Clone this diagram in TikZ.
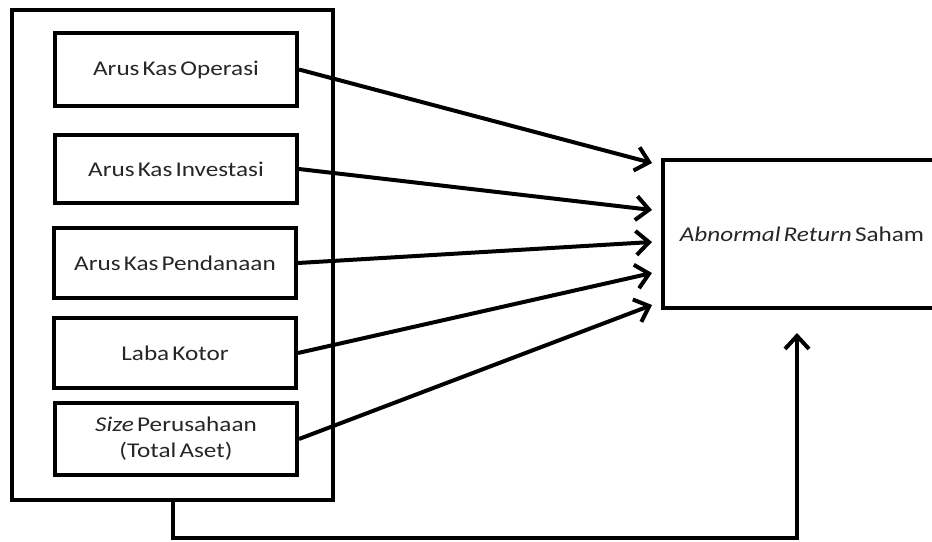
\documentclass[tikz,border=0pt]{standalone}
\usepackage{fontspec}
\setmainfont[FakeStretch=1.2,WordSpace=0.55]{Carlito}
\usetikzlibrary{arrows.meta}
\begin{document}
\begin{tikzpicture}[x=1pt,y=-1pt,
  line width=4pt,
  every node/.style={font=\fontsize{21}{26}\selectfont, text=black!85},
  inbox/.style={draw=black, line width=4pt, minimum width=242pt, inner sep=0pt, align=center},
  conn/.style={line width=4pt, -{Straight Barb[length=13pt,width=24pt,line width=4pt]}}]
\useasboundingbox (0,0) rectangle (932,541);
\clip (0,0) rectangle (932,541);
% outer group box
\node[draw=black, line width=4pt, minimum width=321pt, minimum height=490pt, inner sep=0pt] (outer) at (172.5,255) {};
% inner boxes
\node[inbox, minimum height=73pt] (op) at (176,69.5) {Arus Kas Operasi};
\node[inbox, minimum height=68pt] (inv) at (176,169) {Arus Kas Investasi};
\node[inbox, minimum height=70pt] (pen) at (175,263) {Arus Kas Pendanaan};
\node[inbox, minimum height=70pt] (lab) at (175,353) {Laba Kotor};
\node[inbox, minimum height=72pt] (siz) at (176,439) {\textit{Size} Perusahaan\\(Total Aset)};
% dependent variable
\node[draw=black, line width=4pt, minimum width=278pt, minimum height=148pt, inner sep=0pt] (ar) at (802,234) {\textit{Abnormal} \textit{Return} Saham};
% arrow targets
\coordinate (t1) at (652,163);
\coordinate (t2) at (652,210);
\coordinate (t3) at (652,242);
\coordinate (t4) at (652,273);
\coordinate (t5) at (652,305);
\coordinate (b1) at (172.5,538);
\coordinate (b2) at (797,538);
\coordinate (t6) at (797,333);
\draw[conn] (op.east) -- (t1);
\draw[conn] (inv.east) -- (t2);
\draw[conn] (pen.east) -- (t3);
\draw[conn] (lab.east) -- (t4);
\draw[conn] (siz.east) -- (t5);
\draw[conn] (outer.south) -- (b1) -- (b2) -- (t6);
\end{tikzpicture}
\end{document}
